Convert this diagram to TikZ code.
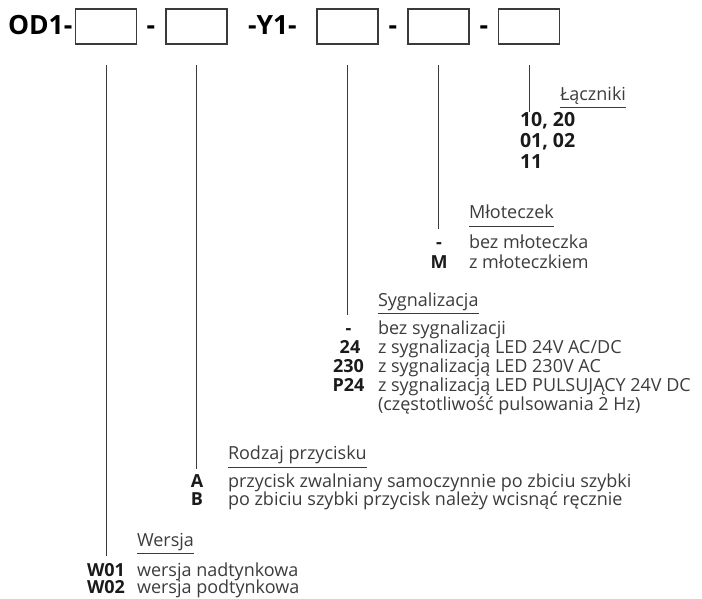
\documentclass[tikz,border=0pt]{standalone}
\usepackage{fontspec}
\setmainfont{Open Sans}
\definecolor{txt}{HTML}{3C3C3C}
\definecolor{code}{HTML}{1A1A1A}
\definecolor{ln}{HTML}{3A3A3A}
\begin{document}
\begin{tikzpicture}[x=1bp,y=-1bp,
  box/.style={draw=ln,line width=1.1bp,minimum width=61bp,minimum height=35bp,inner sep=0,outer sep=0},
  ttl/.style={font=\fontsize{26.5bp}{28bp}\selectfont\bfseries,text=black,inner sep=0,outer sep=0},
  hdr/.style={font=\fontsize{18bp}{19bp}\selectfont,text=txt,inner sep=0,outer sep=0,anchor=base west},
  desc/.style={font=\fontsize{18bp}{19bp}\selectfont,text=txt,inner sep=0,outer sep=0,anchor=base west},
  cd/.style={font=\fontsize{18bp}{19bp}\selectfont\bfseries,text=code,inner sep=0,outer sep=0,anchor=base},
  bigcd/.style={font=\fontsize{19.5bp}{21bp}\selectfont\bfseries,text=code,inner sep=0,outer sep=0,anchor=base west},
  conn/.style={draw=ln,line width=0.9bp},
  uline/.style={draw=ln,line width=1bp}
]
\useasboundingbox (0,0) rectangle (702,599);
% title row
\node[ttl,anchor=base west] (t1) at (8,35) {OD1-};
\node[box] (b1) at (106,26.5) {};
\node[ttl,anchor=base] (t2) at (151,35) {-};
\node[box] (b2) at (196.5,26.5) {};
\node[ttl,anchor=base west] (t3) at (248,35) {-Y1-};
\node[box] (b3) at (347.5,26.5) {};
\node[ttl,anchor=base] (t4) at (393,35) {-};
\node[box] (b4) at (438.5,26.5) {};
\node[ttl,anchor=base] (t5) at (484,35) {-};
\node[box] (b5) at (529,26.5) {};

% connector ends
\coordinate (e5) at (529,112);
\coordinate (e4) at (438.5,229);
\coordinate (e3) at (347.5,315);
\coordinate (e2) at (196.5,469);
\coordinate (e1) at (106,556);
\foreach \i in {1,...,5}{\draw[conn] ([yshift=-21bp]b\i.south) -- (e\i);}

% Laczniki
\node[hdr] (h5) at (560,101) {Łączniki};
\draw[uline] (560,108) -- (h5.base east |- 0,108);
\node[bigcd] (c51) at (520,127) {10, 20};
\node[bigcd] (c52) at (520,148) {01, 02};
\node[bigcd] (c53) at (520,169) {11};

% Mloteczek
\node[hdr] (h4) at (469,218) {Młoteczek};
\draw[uline] (469,226) -- (h4.base east |- 0,226);
\node[cd] (c41) at (439,248) {-};
\node[desc] (d41) at (469,248) {bez młoteczka};
\node[cd] (c42) at (439,268) {M};
\node[desc] (d42) at (469,268) {z młoteczkiem};

% Sygnalizacja
\node[hdr] (h3) at (378,306) {Sygnalizacja};
\draw[uline] (378,313) -- (h3.base east |- 0,313);
\node[cd] (c31) at (348.5,334) {-};
\node[desc] (d31) at (378,334) {bez sygnalizacji};
\node[cd] (c32) at (350,353) {24};
\node[desc] (d32) at (378,353) {z sygnalizacją LED 24V AC/DC};
\node[cd] (c33) at (348.5,372) {230};
\node[desc] (d33) at (378,372) {z sygnalizacją LED 230V AC};
\node[cd] (c34) at (348.5,391) {P24};
\node[desc] (d34) at (378,391) {z sygnalizacją LED PULSUJĄCY 24V DC};
\node[desc] (d35) at (378,410) {(częstotliwość pulsowania 2 Hz)};

% Rodzaj przycisku
\node[hdr] (h2) at (228,459) {Rodzaj przycisku};
\draw[uline] (228,467) -- (h2.base east |- 0,467);
\node[cd] (c21) at (197,487) {A};
\node[desc] (d21) at (228,487) {przycisk zwalniany samoczynnie po zbiciu szybki};
\node[cd] (c22) at (197,505) {B};
\node[desc] (d22) at (228,505) {po zbiciu szybki przycisk należy wcisnąć ręcznie};

% Wersja
\node[hdr] (h1) at (137,546) {Wersja};
\draw[uline] (137,553) -- (h1.base east |- 0,553);
\node[cd] (c11) at (106,576) {W01};
\node[desc] (d11) at (137,576) {wersja nadtynkowa};
\node[cd] (c12) at (106,593) {W02};
\node[desc] (d12) at (137,593) {wersja podtynkowa};
\end{tikzpicture}
\end{document}
